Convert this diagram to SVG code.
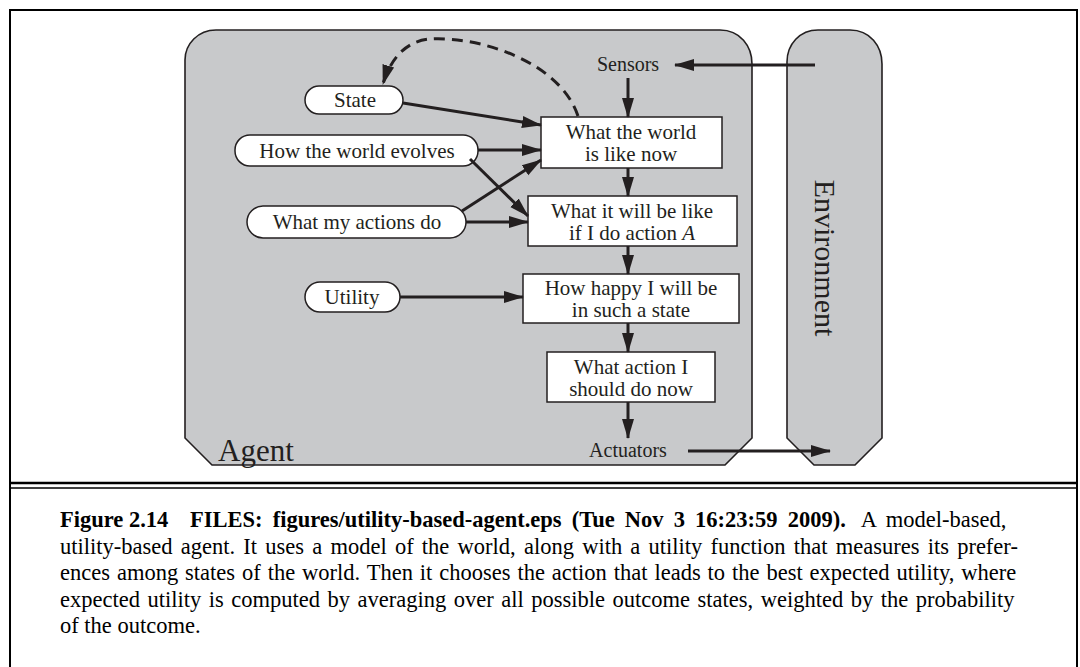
<svg xmlns="http://www.w3.org/2000/svg" width="1080" height="667" viewBox="0 0 1080 667">
<defs>
<style>
.t{font-family:"Liberation Serif","Times New Roman",serif;fill:#231f20}
.n{font-size:21px;text-anchor:middle}
.bx{fill:#fff;stroke:#231f20;stroke-width:1.5}
.big{fill:#c8c9cb;stroke:#231f20;stroke-width:1.6}
.c{fill:none;stroke:#231f20;stroke-width:3}
.cap{font-family:"Liberation Serif","Times New Roman",serif;font-size:22.5px;fill:#000}
</style>
<marker id="ah" markerUnits="userSpaceOnUse" markerWidth="20" markerHeight="14" viewBox="0 0 20 14" refX="19" refY="7" orient="auto">
<path d="M0,1 L20,7 L0,13 Z" fill="#231f20"/>
</marker>
</defs>
<rect width="1080" height="667" fill="#fff"/>
<g id="frame" fill="none" stroke="#000">
<path d="M10,667 V10 H1077 V667" stroke-width="2"/>
<line x1="10" y1="483" x2="1077" y2="483" stroke-width="2.5"/>
<line x1="10" y1="488" x2="1077" y2="488" stroke-width="1.5"/>
</g>
<g id="agent">
<path class="big" d="M185,60 C185,44 198,30 216,30 H720 C740,30 752,46 752,64 V438 L725,465 H212 L185,438 Z"/>
<text class="t" x="218" y="461" font-size="31">Agent</text>
</g>
<g id="environment">
<path class="big" d="M787,62 C787,44 800,30 818,30 H850 C870,30 882,46 882,64 V438 L855,465 H814 L787,438 Z"/>
<text class="t" font-size="30" transform="translate(815,258) rotate(90)" text-anchor="middle">Environment</text>
</g>
<g id="sensors"><text class="t" x="628" y="71" font-size="20" text-anchor="middle">Sensors</text></g>
<g id="actuators"><text class="t" x="628" y="457" font-size="20" text-anchor="middle">Actuators</text></g>
<g id="state"><rect class="bx" x="305" y="86" width="98" height="28" rx="14"/><text class="t n" x="355" y="107">State</text></g>
<g id="how-world"><rect class="bx" x="235" y="135" width="243" height="31" rx="15"/><text class="t n" x="357" y="158">How the world evolves</text></g>
<g id="my-actions"><rect class="bx" x="247" y="206" width="219" height="32" rx="16"/><text class="t n" x="357" y="229">What my actions do</text></g>
<g id="utility"><rect class="bx" x="305" y="282" width="95" height="30" rx="15"/><text class="t n" x="352" y="304">Utility</text></g>
<g id="world-now"><rect class="bx" x="541" y="117" width="181" height="51"/><text class="t n" x="631" y="139">What the world</text><text class="t n" x="631" y="161">is like now</text></g>
<g id="will-be"><rect class="bx" x="528" y="196" width="209" height="50"/><text class="t n" x="632" y="218">What it will be like</text><text class="t n" x="632" y="240">if I do action <tspan font-style="italic">A</tspan></text></g>
<g id="happy"><rect class="bx" x="523" y="274" width="216" height="49"/><text class="t n" x="631" y="295">How happy I will be</text><text class="t n" x="631" y="317">in such a state</text></g>
<g id="action"><rect class="bx" x="547" y="352" width="168" height="50"/><text class="t n" x="631" y="374">What action I</text><text class="t n" x="631" y="396">should do now</text></g>
<g id="connectors" class="c">
<path d="M815,65 H675" marker-end="url(#ah)"/>
<path d="M628,78 V117" marker-end="url(#ah)"/>
<path d="M578,116 C560,62 480,36 430,39 C405,41 390,60 383,84" stroke-dasharray="11,7" marker-end="url(#ah)"/>
<path d="M403,103 L541,125" marker-end="url(#ah)"/>
<path d="M478,150 H541" marker-end="url(#ah)"/>
<path d="M470,159 L528,216" marker-end="url(#ah)"/>
<path d="M462,211 L541,160" marker-end="url(#ah)"/>
<path d="M466,222 H528" marker-end="url(#ah)"/>
<path d="M400,297 H523" marker-end="url(#ah)"/>
<path d="M628,168 V196" marker-end="url(#ah)"/>
<path d="M628,246 V274" marker-end="url(#ah)"/>
<path d="M628,323 V352" marker-end="url(#ah)"/>
<path d="M628,402 V438" marker-end="url(#ah)"/>
<path d="M688,451 H830" marker-end="url(#ah)"/>
</g>
<g id="caption">
<text class="cap" x="60" y="527" font-weight="bold">Figure 2.14</text>
<text class="cap" x="190" y="527" word-spacing="4.5"><tspan font-weight="bold">FILES: figures/utility-based-agent.eps (Tue Nov 3 16:23:59 2009).</tspan><tspan dx="6"> A model-based,</tspan></text>
<text class="cap" x="60" y="554" word-spacing="2.6">utility-based agent. It uses a model of the world, along with a utility function that measures its prefer-</text>
<text class="cap" x="60" y="580" word-spacing="1.3">ences among states of the world. Then it chooses the action that leads to the best expected utility, where</text>
<text class="cap" x="60" y="607" word-spacing="1.9">expected utility is computed by averaging over all possible outcome states, weighted by the probability</text>
<text class="cap" x="60" y="633">of the outcome.</text>
</g>
</svg>
